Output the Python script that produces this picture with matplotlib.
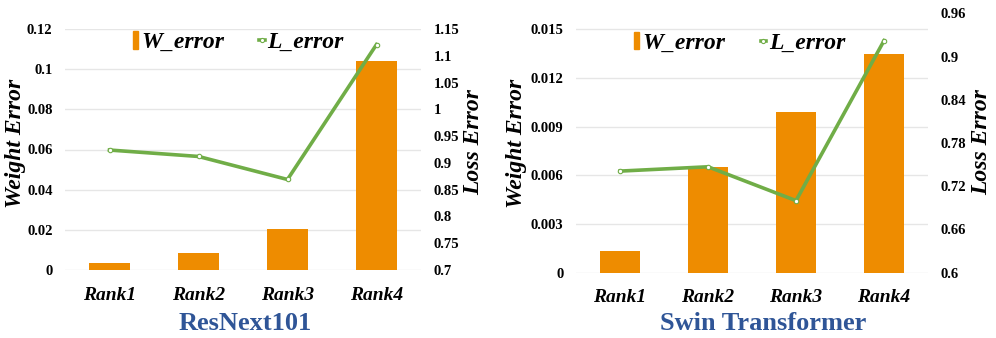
import matplotlib.pyplot as plt
from matplotlib.lines import Line2D
from matplotlib.patches import Rectangle

ranks = ["Rank1", "Rank2", "Rank3", "Rank4"]

resnext_w = [0.0033, 0.0086, 0.0206, 0.104]
resnext_l = [0.924, 0.912, 0.869, 1.121]
resnext_wticks = [0, 0.02, 0.04, 0.06, 0.08, 0.1, 0.12]
resnext_wlabels = ["0", "0.02", "0.04", "0.06", "0.08", "0.1", "0.12"]
resnext_lticks = [0.7, 0.75, 0.8, 0.85, 0.9, 0.95, 1.0, 1.05, 1.1, 1.15]
resnext_llabels = ["0.7", "0.75", "0.8", "0.85", "0.9", "0.95", "1", "1.05", "1.1", "1.15"]

swin_w = [0.00135, 0.00652, 0.00989, 0.01346]
swin_l = [0.741, 0.747, 0.700, 0.922]
swin_wticks = [0, 0.003, 0.006, 0.009, 0.012, 0.015]
swin_wlabels = ["0", "0.003", "0.006", "0.009", "0.012", "0.015"]
swin_lticks = [0.6, 0.66, 0.72, 0.78, 0.84, 0.9, 0.96]
swin_llabels = ["0.6", "0.66", "0.72", "0.78", "0.84", "0.9", "0.96"]

BAR = "#EE8C00"
LINE = "#70AD47"
GRID = "#E6E6E6"
TITLE = "#2F5597"
SERIF = "Liberation Serif"

W, H = 996, 338
fig = plt.figure(figsize=(W / 100, H / 100), dpi=100)


def px_axes(x0, x1, ytop, ybot):
    return fig.add_axes([x0 / W, (H - ybot) / H, (x1 - x0) / W, (ybot - ytop) / H])


def panel(ax, wvals, lvals, wlim, llim, wticks, wlabels, lticks, llabels,
          title, ylab_x, title_x, leg_xy):
    x = range(len(ranks))
    ax.bar(x, wvals, width=0.45, color=BAR, zorder=2)
    ax.set_xlim(-0.5, len(ranks) - 0.5)
    ax.set_ylim(*wlim)
    ax.set_yticks(wticks, wlabels)
    ax.set_xticks(list(x), ranks)
    for gy in wticks:
        ax.axhline(gy, color=GRID, lw=1, zorder=0)
    for s in ax.spines.values():
        s.set_visible(False)
    ax.tick_params(length=0)
    ax.tick_params(axis="y", pad=9)
    ax.tick_params(axis="x", pad=12)
    for t in ax.get_yticklabels():
        t.set_fontfamily(SERIF)
        t.set_fontweight("bold")
        t.set_fontsize(10.5)
    for t in ax.get_xticklabels():
        t.set_fontfamily(SERIF)
        t.set_fontweight("bold")
        t.set_fontstyle("italic")
        t.set_fontsize(14)

    ax2 = ax.twinx()
    ax2.plot(x, lvals, color=LINE, lw=2.6, marker="o", ms=3.2,
             mfc="white", mec=LINE, mew=0.8, zorder=3)
    ax2.set_ylim(*llim)
    ax2.set_yticks(lticks, llabels)
    for s in ax2.spines.values():
        s.set_visible(False)
    ax2.tick_params(length=0, pad=9)
    for t in ax2.get_yticklabels():
        t.set_fontfamily(SERIF)
        t.set_fontweight("bold")
        t.set_fontsize(10.5)

    handles = [Rectangle((0, 0), 1, 1, color=BAR),
               Line2D([], [], color=LINE, lw=2.6, marker="o", ms=3.0,
                      mfc="white", mec=LINE, mew=0.8)]
    leg = ax2.legend(handles, ["W_error", "L_error"], loc="center",
                     bbox_to_anchor=leg_xy, ncol=2, frameon=False,
                     handlelength=0.22, handleheight=0.75, handletextpad=0.12,
                     columnspacing=1.5, borderpad=0,
                     prop={"family": SERIF, "weight": "bold", "style": "italic", "size": 17})
    leg.set_zorder(5)

    fig.text(ylab_x[0] / W, 0.575, "Weight Error", rotation=90, ha="center", va="center",
             family=SERIF, weight="bold", style="italic", fontsize=17)
    fig.text(ylab_x[1] / W, 0.58, "Loss Error", rotation=90, ha="center", va="center",
             family=SERIF, weight="bold", style="italic", fontsize=17)
    fig.text(title_x / W, (H - 323) / H, title, ha="center", va="center",
             family=SERIF, weight="bold", fontsize=19, color=TITLE)


ax_a = px_axes(65, 421, 29, 270)
panel(ax_a, resnext_w, resnext_l, (0, 0.12), (0.7, 1.15),
      resnext_wticks, resnext_wlabels, resnext_lticks, resnext_llabels,
      "ResNext101", (16, 474), 245, (0.487, 0.945))

ax_b = px_axes(576, 928, 13.3, 272.7)
panel(ax_b, swin_w, swin_l, (0, 0.01597), (0.6, 0.96),
      swin_wticks, swin_wlabels, swin_lticks, swin_llabels,
      "Swin Transformer", (516, 982), 763, (0.465, 0.885))

fig.savefig("out.png", dpi=100)
